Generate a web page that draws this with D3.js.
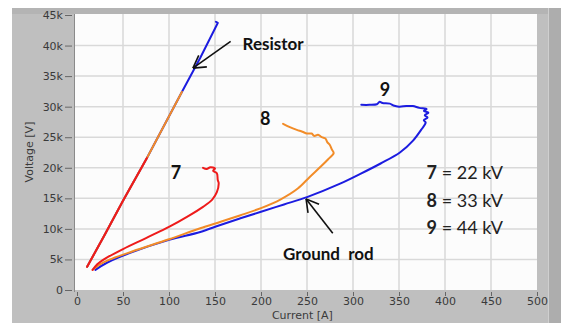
<!DOCTYPE html>
<html>
<head>
<meta charset="utf-8">
<script src="https://cdn.jsdelivr.net/npm/d3@7"></script>
<style>
  html, body { margin: 0; padding: 0; background: #ffffff; }
  svg { display: block; }
</style>
</head>
<body>
<svg id="chart" width="561" height="323"></svg>
<script>
// Axis ticks
const xTicks = [0, 50, 100, 150, 200, 250, 300, 350, 400, 450, 500];
const yTicks = [0, 5, 10, 15, 20, 25, 30, 35, 40, 45];   // kV

// Resistor V-I traces (current in A, voltage in kV)
const res7Current = [11, 30, 50, 76];
const res7Voltage = [3.8, 9.0, 14.6, 21.6];
const res8Current = [11, 30, 50, 76, 95, 114];
const res8Voltage = [3.8, 9.0, 14.6, 21.6, 27.0, 32.4];
const res9Current = [11, 30, 50, 76, 95, 114, 134, 150, 153, 151];
const res9Voltage = [3.8, 9.0, 14.6, 21.6, 27.0, 32.4, 38.0, 42.8, 43.7, 43.9];

// Ground rod V-I traces
const rod7Current = [17, 22, 28, 50, 75, 101, 120, 137, 147, 152, 154, 153, 152, 148, 150, 145, 141, 137];
const rod7Voltage = [3.3, 4.2, 4.9, 6.7, 8.5, 10.4, 12.0, 13.6, 14.8, 16.0, 17.5, 18.0, 19.1, 19.5, 19.9, 20.1, 19.8, 20.0];

const rod8Current = [17, 25, 36, 60, 100, 134, 157, 177, 200, 221, 240, 253, 265, 273, 279, 277, 275, 272, 270, 266, 262, 258, 255, 250, 245, 239, 232, 224];
const rod8Voltage = [3.3, 4.2, 5.0, 6.3, 8.3, 10.1, 11.2, 12.2, 13.4, 14.8, 16.6, 18.5, 20.2, 21.4, 22.4, 23.0, 23.7, 24.2, 24.8, 25.0, 25.4, 25.2, 25.6, 25.6, 25.9, 26.2, 26.6, 27.2];

const rod9Current = [20, 33, 60, 100, 134, 155, 177, 200, 225, 250, 286, 308, 330, 351, 365, 374, 379, 377, 381, 378, 382, 377, 380, 372, 365, 358, 350, 344, 340, 332, 329, 326, 318, 309];
const rod9Voltage = [3.3, 4.5, 6.2, 8.2, 9.5, 10.6, 11.7, 12.8, 14.0, 15.2, 17.4, 19.0, 20.7, 22.5, 24.4, 26.2, 27.4, 27.8, 28.2, 28.6, 29.0, 29.3, 29.6, 29.8, 30.1, 30.1, 30.0, 30.2, 30.5, 30.6, 30.8, 30.4, 30.3, 30.3];

// Curve labels and legend entries
const curveIds = ["7", "8", "9"];
const curveLabelCurrent = [102, 199, 329];
const curveLabelVoltage = [18.2, 27.0, 31.7];
const legendValues = ["22 kV", "33 kV", "44 kV"];
const legendVoltage = [18.2, 13.6, 9.2];
const legendCurrent = 380;

const colors = { "7": "#ee1b1b", "8": "#f28c28", "9": "#1c1ce0" };

const svg = d3.select("#chart");
const W = 561, H = 323;

// Panel frame
svg.append("rect").attr("x", 12).attr("y", 8).attr("width", W - 12).attr("height", H - 8).attr("fill", "#bfbfbf");
svg.append("rect").attr("x", 12).attr("y", 8).attr("width", W - 12).attr("height", 6).attr("fill", "#b4b4b4");
svg.append("rect").attr("x", 548).attr("y", 8).attr("width", 13).attr("height", H - 8).attr("fill", "#adadad");
svg.append("line").attr("x1", 548.5).attr("x2", 548.5).attr("y1", 8).attr("y2", H).attr("stroke", "#cfcfcf");

const plot = { left: 75, right: 537, top: 14, bottom: 290 };
svg.append("rect")
  .attr("x", plot.left).attr("y", plot.top)
  .attr("width", plot.right - plot.left).attr("height", plot.bottom - plot.top)
  .attr("fill", "#fcfcfc");

const x = d3.scaleLinear().domain([0, 500]).range([77, 537]);
const y = d3.scaleLinear().domain([0, 45]).range([290, 15]);

// Grid
const grid = svg.append("g");
grid.selectAll("line.vx").data(xTicks.slice(1, -1)).join("line")
  .attr("x1", d => x(d)).attr("x2", d => x(d))
  .attr("y1", plot.top).attr("y2", plot.bottom)
  .attr("stroke", "#d9d9d9").attr("stroke-width", 1.5);
grid.selectAll("line.hy").data(yTicks.slice(1, -1)).join("line")
  .attr("x1", plot.left).attr("x2", plot.right)
  .attr("y1", d => y(d)).attr("y2", d => y(d))
  .attr("stroke", "#d9d9d9").attr("stroke-width", 1.5);

// Plot border on the left
svg.append("line").attr("x1", 74.5).attr("x2", 74.5).attr("y1", plot.top).attr("y2", plot.bottom + 2)
  .attr("stroke", "#8a8a8a").attr("stroke-width", 1);

// Axes
const tickFont = "'DejaVu Sans', sans-serif";
const yAxis = d3.axisLeft(y).tickValues(yTicks).tickSize(7).tickPadding(2)
  .tickFormat(d => d === 0 ? "0" : d + "k");
const gy = svg.append("g").attr("transform", "translate(72,0)").call(yAxis);
gy.select(".domain").remove();
gy.selectAll("line").attr("stroke", "#666");
gy.selectAll("text").attr("fill", "#3a3a3a").style("font-family", tickFont).style("font-size", "11px");

const xAxis = d3.axisBottom(x).tickValues(xTicks).tickSize(4).tickPadding(1);
const gx = svg.append("g").attr("transform", "translate(0,292)").call(xAxis);
gx.select(".domain").remove();
gx.selectAll("line").attr("stroke", "#666");
gx.selectAll("text").attr("fill", "#3a3a3a").style("font-family", tickFont).style("font-size", "11px");

svg.append("text").attr("x", x(245)).attr("y", 319).attr("text-anchor", "middle")
  .attr("fill", "#3a3a3a").style("font-family", tickFont).style("font-size", "11px")
  .text("Current [A]");
svg.append("text").attr("transform", `translate(33,${(plot.top + plot.bottom) / 2}) rotate(-90)`)
  .attr("text-anchor", "middle")
  .attr("fill", "#3a3a3a").style("font-family", tickFont).style("font-size", "11px")
  .text("Voltage [V]");

// Traces: resistor traces straight, ground rod traces smoothed
const zip = (a, b) => a.map((v, i) => [v, b[i]]);
const straight = d3.line().x(d => x(d[0])).y(d => y(d[1]));
const smooth = d3.line().x(d => x(d[0])).y(d => y(d[1])).curve(d3.curveCatmullRom.alpha(0.5));
const traces = [
  { id: "9", pts: zip(res9Current, res9Voltage), gen: straight },
  { id: "8", pts: zip(res8Current, res8Voltage), gen: straight },
  { id: "7", pts: zip(res7Current, res7Voltage), gen: straight },
  { id: "9", pts: zip(rod9Current, rod9Voltage), gen: smooth },
  { id: "8", pts: zip(rod8Current, rod8Voltage), gen: smooth },
  { id: "7", pts: zip(rod7Current, rod7Voltage), gen: smooth }
];
svg.append("g").selectAll("path").data(traces).join("path")
  .attr("d", d => d.gen(d.pts))
  .attr("fill", "none")
  .attr("stroke", d => colors[d.id])
  .attr("stroke-width", 2)
  .attr("stroke-linejoin", "round")
  .attr("stroke-linecap", "round");

// Annotations
const annoFont = "Lato, 'Open Sans', sans-serif";
const arrows = [
  { from: [167, 40.7], to: [126, 36.3] },
  { from: [278, 9.3], to: [249, 14.9] }
];
arrows.forEach(a => {
  const x0 = x(a.from[0]), y0 = y(a.from[1]), x1 = x(a.to[0]), y1 = y(a.to[1]);
  const ang = Math.atan2(y0 - y1, x0 - x1);
  const len = 14, spread = Math.PI / 6;
  const g = svg.append("g").attr("stroke", "#111").attr("stroke-width", 1.6).attr("fill", "none");
  g.append("line").attr("x1", x0).attr("y1", y0).attr("x2", x1).attr("y2", y1);
  [-spread, spread].forEach(s => {
    g.append("line").attr("x1", x1).attr("y1", y1)
      .attr("x2", x1 + len * Math.cos(ang + s)).attr("y2", y1 + len * Math.sin(ang + s));
  });
});

svg.append("text").attr("x", x(180)).attr("y", y(39.3))
  .attr("fill", "#111").style("font-family", annoFont).style("font-size", "17px").style("font-weight", 700)
  .text("Resistor");
svg.append("text").attr("x", x(224)).attr("y", y(4.9))
  .attr("fill", "#111").style("font-family", annoFont).style("font-size", "17px").style("font-weight", 700)
  .style("white-space", "pre")
  .text("Ground  rod");

svg.append("g").selectAll("text").data(curveIds).join("text")
  .attr("x", (d, i) => x(curveLabelCurrent[i]))
  .attr("y", (d, i) => y(curveLabelVoltage[i]))
  .attr("fill", "#111").style("font-family", annoFont).style("font-size", "18px").style("font-weight", 700)
  .text(d => d);

const legend = svg.append("g").selectAll("text").data(curveIds).join("text")
  .attr("x", x(legendCurrent))
  .attr("y", (d, i) => y(legendVoltage[i]))
  .attr("fill", "#222").style("font-family", annoFont).style("font-size", "18px")
  .style("white-space", "pre");
legend.append("tspan").style("font-weight", 700).text(d => d);
legend.append("tspan").style("font-weight", 400).text((d, i) => " = " + legendValues[i]);
</script>
</body>
</html>
